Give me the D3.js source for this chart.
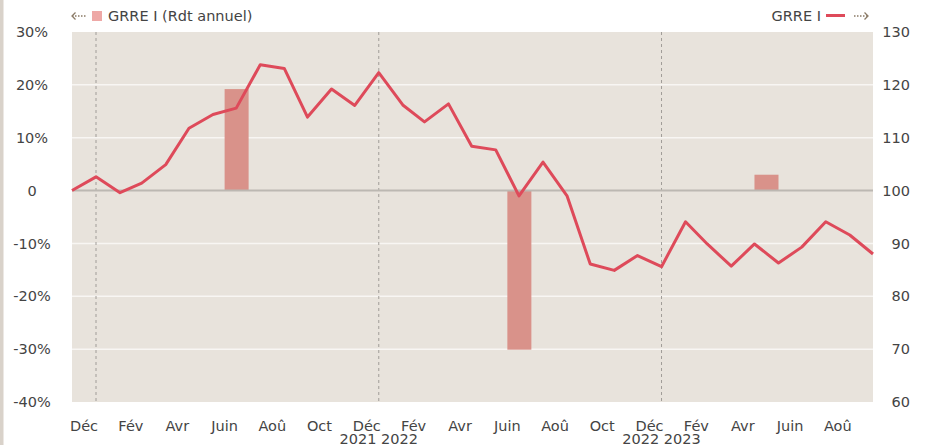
<!DOCTYPE html>
<html>
<head>
<meta charset="utf-8">
<script src="https://cdn.jsdelivr.net/npm/d3@7"></script>
<style>
  body { margin: 0; background: #fff; }
  svg text { font-family: "DejaVu Sans", Verdana, sans-serif; fill: #444; }
</style>
</head>
<body>
<div id="chart"></div>
<script>
// Data
const months = [
  "2020-12", "2021-01", "2021-02", "2021-03", "2021-04", "2021-05", "2021-06",
  "2021-07", "2021-08", "2021-09", "2021-10", "2021-11", "2021-12", "2022-01",
  "2022-02", "2022-03", "2022-04", "2022-05", "2022-06", "2022-07", "2022-08",
  "2022-09", "2022-10", "2022-11", "2022-12", "2023-01", "2023-02", "2023-03",
  "2023-04", "2023-05", "2023-06", "2023-07", "2023-08", "2023-09", "2023-10"
];
const grreIndex = [
  100.0, 102.6, 99.6, 101.4, 104.9, 111.8, 114.4,
  115.6, 123.8, 123.1, 113.9, 119.2, 116.1, 122.3,
  116.2, 113.0, 116.4, 108.4, 107.7, 99.0, 105.4,
  99.0, 86.1, 84.9, 87.7, 85.6, 94.1, 89.9,
  85.7, 89.9, 86.3, 89.3, 94.1, 91.6, 88.0
];
const barDates = ["2021-07-01", "2022-07-01", "2023-05-16"];
const barValues = [19.2, -30.1, 3.0];

const monthTicks = ["2020-12", "2021-02", "2021-04", "2021-06", "2021-08", "2021-10",
  "2021-12", "2022-02", "2022-04", "2022-06", "2022-08", "2022-10",
  "2022-12", "2023-02", "2023-04", "2023-06", "2023-08"];
const monthNames = ["Janv", "Fév", "Mars", "Avr", "Mai", "Juin", "Juil", "Aoû", "Sept", "Oct", "Nov", "Déc"];
const yearBreaks = ["2021-01-01", "2022-01-01", "2023-01-01"];
const yearLabels = [["2022-01-01", "2021 2022"], ["2023-01-01", "2022 2023"]];
const leftTicks = [30, 20, 10, 0, -10, -20, -30, -40];
const rightTicks = [130, 120, 110, 100, 90, 80, 70, 60];

const W = 927, H = 445;
const plot = { left: 72, right: 873, top: 32, bottom: 402 };

const parseMonth = d3.timeParse("%Y-%m");
const parseDay = d3.timeParse("%Y-%m-%d");

const svg = d3.select("#chart").append("svg")
  .attr("width", W).attr("height", H);

// left page edge strip
svg.append("rect").attr("x", 0).attr("y", 0).attr("width", 3.5).attr("height", H).attr("fill", "#d9d2ca");

const x = d3.scaleTime()
  .domain([parseMonth(months[0]), parseMonth(months[months.length - 1])])
  .range([plot.left, plot.right]);
const yLeft = d3.scaleLinear().domain([-40, 30]).range([plot.bottom, plot.top]);
const yRight = d3.scaleLinear().domain([60, 130]).range([plot.bottom, plot.top]);

// plot background
svg.append("rect")
  .attr("x", plot.left).attr("y", plot.top)
  .attr("width", plot.right - plot.left).attr("height", plot.bottom - plot.top)
  .attr("fill", "#e8e3dc");

// horizontal grid
svg.append("g").selectAll("line")
  .data(leftTicks.filter(d => d !== 0 && d !== 30 && d !== -40))
  .join("line")
  .attr("x1", plot.left).attr("x2", plot.right)
  .attr("y1", d => yLeft(d)).attr("y2", d => yLeft(d))
  .attr("stroke", "#f8f6f3").attr("stroke-width", 1.5);

// year separators
svg.append("g").selectAll("line")
  .data(yearBreaks.map(parseDay))
  .join("line")
  .attr("x1", d => x(d)).attr("x2", d => x(d))
  .attr("y1", plot.top).attr("y2", plot.bottom)
  .attr("stroke", "#a09c98").attr("stroke-width", 1)
  .attr("stroke-dasharray", "3,3");

// bars (annual yield)
const bars = barDates.map((d, i) => ({ date: parseDay(d), value: barValues[i] }));
svg.append("g").selectAll("rect")
  .data(bars)
  .join("rect")
  .attr("x", d => x(d3.timeDay.offset(d.date, -15)))
  .attr("width", d => x(d3.timeDay.offset(d.date, 16)) - x(d3.timeDay.offset(d.date, -15)))
  .attr("y", d => yLeft(Math.max(0, d.value)))
  .attr("height", d => Math.abs(yLeft(d.value) - yLeft(0)))
  .attr("fill", "#d9928a");

// zero line
svg.append("line")
  .attr("x1", plot.left).attr("x2", plot.right)
  .attr("y1", yLeft(0)).attr("y2", yLeft(0))
  .attr("stroke", "#bcb8b2").attr("stroke-width", 2);

// GRRE I line
const lineData = months.map((m, i) => ({ date: parseMonth(m), value: grreIndex[i] }));
svg.append("path")
  .datum(lineData)
  .attr("fill", "none")
  .attr("stroke", "#de4a5a")
  .attr("stroke-width", 3)
  .attr("stroke-linejoin", "round")
  .attr("d", d3.line().x(d => x(d.date)).y(d => yRight(d.value)));

// left axis labels
svg.append("g").selectAll("text")
  .data(leftTicks)
  .join("text")
  .attr("x", 32).attr("y", d => yLeft(d))
  .attr("dy", "0.35em")
  .attr("text-anchor", "middle")
  .style("font-size", "14.5px")
  .text(d => d === 0 ? "0" : d + "%");

// right axis labels
svg.append("g").selectAll("text")
  .data(rightTicks)
  .join("text")
  .attr("x", 910).attr("y", d => yRight(d))
  .attr("dy", "0.35em")
  .attr("text-anchor", "end")
  .style("font-size", "14.5px")
  .text(d => d);

// month labels, centred in the month
svg.append("g").selectAll("text")
  .data(monthTicks.map(parseMonth))
  .join("text")
  .attr("x", d => (x(d) + x(d3.timeMonth.offset(d, 1))) / 2)
  .attr("y", 431)
  .attr("text-anchor", "middle")
  .style("font-size", "14.5px")
  .text(d => monthNames[d.getMonth()]);

// year labels on the year breaks
svg.append("g").selectAll("text")
  .data(yearLabels)
  .join("text")
  .attr("x", d => x(parseDay(d[0])))
  .attr("y", 444)
  .attr("text-anchor", "middle")
  .style("font-size", "14.5px")
  .text(d => d[1]);

// dotted axis arrows in the legend
function dottedArrow(g, x0, x1, y, dir) {
  g.append("line").attr("x1", x0).attr("x2", x1).attr("y1", y).attr("y2", y)
    .attr("stroke", "#8a7a66").attr("stroke-width", 1.3).attr("stroke-dasharray", "1.5,1.5");
  const tip = dir < 0 ? x0 : x1;
  g.append("path")
    .attr("d", `M${tip - dir * 3.5},${y - 3.5}L${tip},${y}L${tip - dir * 3.5},${y + 3.5}`)
    .attr("fill", "none").attr("stroke", "#8a7a66").attr("stroke-width", 1.3);
}

// legend, left
const legL = svg.append("g");
dottedArrow(legL, 72, 86, 16, -1);
legL.append("rect").attr("x", 92).attr("y", 11).attr("width", 10).attr("height", 10).attr("fill", "#eea8a6");
legL.append("text").attr("x", 108).attr("y", 16).attr("dy", "0.35em").style("font-size", "14.5px").text("GRRE I (Rdt annuel)");

// legend, right
const legR = svg.append("g");
legR.append("text").attr("x", 821).attr("y", 16).attr("dy", "0.35em").attr("text-anchor", "end").style("font-size", "14.5px").text("GRRE I");
legR.append("line").attr("x1", 826).attr("x2", 845).attr("y1", 15.5).attr("y2", 15.5).attr("stroke", "#de4a5a").attr("stroke-width", 3);
dottedArrow(legR, 854, 868, 16, 1);
</script>
</body>
</html>
